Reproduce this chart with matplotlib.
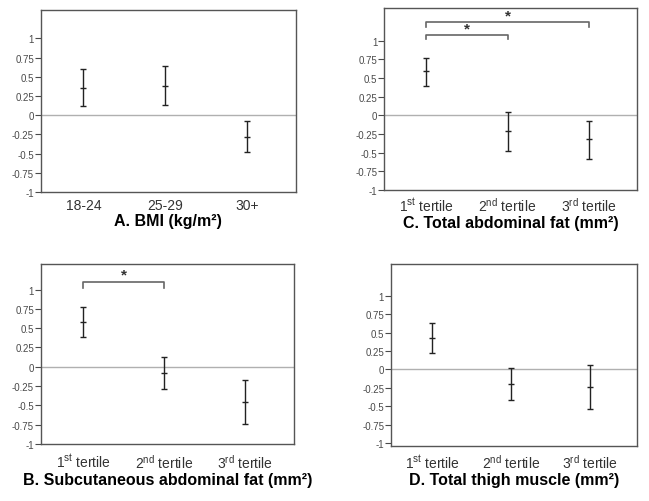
import matplotlib
matplotlib.use('Agg')
import numpy as np
import matplotlib.pyplot as plt

plt.rcParams['font.family'] = ['Liberation Sans', 'DejaVu Sans']
plt.rcParams['mathtext.fontset'] = 'custom'
plt.rcParams['mathtext.rm'] = 'Liberation Sans'
plt.rcParams['mathtext.it'] = 'Liberation Sans'

# --- data ---
bmi_labels = ['18-24', '25-29', '30+']
bmi_mean = [0.36, 0.38, -0.28]
bmi_low = [0.12, 0.13, -0.48]
bmi_high = [0.60, 0.64, -0.07]

tertile_labels = ['1$^{\\mathrm{st}}$ tertile', '2$^{\\mathrm{nd}}$ tertile', '3$^{\\mathrm{rd}}$ tertile']

tot_mean = [0.59, -0.21, -0.32]
tot_low = [0.39, -0.48, -0.58]
tot_high = [0.77, 0.04, -0.08]

sub_mean = [0.58, -0.08, -0.45]
sub_low = [0.39, -0.29, -0.74]
sub_high = [0.77, 0.12, -0.17]

thigh_mean = [0.42, -0.20, -0.24]
thigh_low = [0.22, -0.42, -0.54]
thigh_high = [0.63, 0.02, 0.06]

yticks = [-1, -0.75, -0.5, -0.25, 0, 0.25, 0.5, 0.75, 1]
ytick_labels = ['-1', '-0.75', '-0.5', '-0.25', '0', '0.25', '0.5', '0.75', '1']

panels = [
    # rect, labels, mean, low, high, ylim, title, brackets (x1, x2, y, drop), tick pad
    ([0.063, 0.6155, 0.393, 0.3625], bmi_labels, bmi_mean, bmi_low, bmi_high,
     (-1, 1.37), 'A. BMI (kg/m\u00b2)', [], 4),
    ([0.592, 0.6195, 0.390, 0.3625], tertile_labels, tot_mean, tot_low, tot_high,
     (-1, 1.44), 'C. Total abdominal fat (mm\u00b2)', [(1, 2, 1.08, 0.06), (1, 3, 1.25, 0.07)], 4),
    ([0.063, 0.1135, 0.390, 0.3586], tertile_labels, sub_mean, sub_low, sub_high,
     (-1, 1.33), 'B. Subcutaneous abdominal fat (mm\u00b2)', [(1, 2, 1.10, 0.08)], 6),
    ([0.6025, 0.1096, 0.379, 0.3625], tertile_labels, thigh_mean, thigh_low, thigh_high,
     (-1.04, 1.43), 'D. Total thigh muscle (mm\u00b2)', [], 5),
]

fig = plt.figure(figsize=(6.49, 5.02), dpi=100)

for rect, labels, mean, low, high, ylim, title, brackets, pad in panels:
    ax = fig.add_axes(rect)
    x = np.arange(1, len(labels) + 1)
    mean = np.array(mean)
    err = [mean - np.array(low), np.array(high) - mean]
    ax.axhline(0, color='#b0b0b0', lw=1, zorder=1)
    ax.errorbar(x, mean, yerr=err, fmt='_', color='#222222', ecolor='#222222',
                elinewidth=1, capsize=2.3, capthick=1, markersize=4.6, markeredgewidth=1, zorder=3)
    for x1, x2, yb, drop in brackets:
        ax.plot([x1, x1, x2, x2], [yb - drop, yb, yb, yb - drop], color='#666666', lw=1.2)
        ax.text((x1 + x2) / 2, yb + 0.09, '*', ha='center', va='center', fontsize=11,
                fontweight='bold', color='#333333')
    ax.set_xlim(0.48, 3.6)
    ax.set_ylim(*ylim)
    ax.set_yticks(yticks)
    ax.set_yticklabels(ytick_labels)
    ax.set_xticks(x)
    ax.set_xticklabels(labels)
    ax.tick_params(axis='y', direction='out', length=4, width=0.8, labelsize=7,
                   colors='#4a4a4a', pad=1)
    ax.tick_params(axis='x', length=0, labelsize=10, labelcolor='#333333', pad=pad)
    for s in ax.spines.values():
        s.set_color('#555555')
        s.set_linewidth(1)
    ax.set_xlabel(title, fontsize=11.5, fontweight='bold', labelpad=1)

fig.savefig('out.png', dpi=100)
